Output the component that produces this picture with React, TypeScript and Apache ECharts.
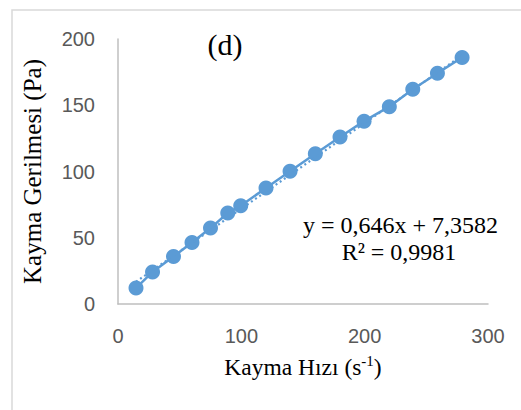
import React, { useEffect, useRef } from "react";
import * as echarts from "echarts";

const shearRate = [14.6, 28, 45, 60, 75, 89, 99.5, 120, 139.5, 160, 180, 199.5, 220, 239, 259, 279];
const shearStress = [12, 24.2, 35.8, 46.4, 57.3, 68.7, 74.2, 87.6, 100.2, 113.4, 126, 138, 148.9, 162.1, 174.2, 186.1];
const trendSlope = 0.646;
const trendIntercept = 7.3582;
const xTicks = [0, 100, 200, 300];
const yTicks = [0, 50, 100, 150, 200];
const panelLabel = "(d)";
const equationText = "y = 0,646x + 7,3582";
const r2Text = "R² = 0,9981";

const BLUE = "#5B9BD5";
const SERIF = "'Liberation Serif', 'Times New Roman', serif";
const SANS = "'Liberation Sans', Arial, sans-serif";

export default function App() {
  const ref = useRef<HTMLDivElement>(null);
  useEffect(() => {
    if (!ref.current) return;
    const chart = echarts.init(ref.current, undefined, { renderer: "svg" });
    const pts = shearRate.map((x, i) => [x, shearStress[i]]);
    const xMin = Math.min(...shearRate);
    const xMax = Math.max(...shearRate);
    const trend = [
      [xMin, trendSlope * xMin + trendIntercept],
      [xMax, trendSlope * xMax + trendIntercept],
    ];
    chart.setOption({
      animation: false,
      backgroundColor: "#ffffff",
      grid: { left: 118, right: 33, top: 39, bottom: 106 },
      xAxis: {
        type: "value",
        min: xTicks[0],
        max: xTicks[xTicks.length - 1],
        interval: 100,
        axisLine: { show: true, lineStyle: { color: "#BFBFBF", width: 1.5 } },
        axisTick: { show: false },
        splitLine: { show: false },
        axisLabel: { color: "#595959", fontSize: 20, fontFamily: SANS, margin: 22 },
        name: "{a|Kayma Hızı (s}{b|-1}{a|)}",
        nameLocation: "middle",
        nameGap: 49,
        nameTextStyle: {
          rich: {
            a: { fontFamily: SERIF, fontSize: 23.5, color: "#000", lineHeight: 27 },
            b: { fontFamily: SERIF, fontSize: 15, color: "#000", verticalAlign: "top", lineHeight: 27 },
          },
        },
      },
      yAxis: {
        type: "value",
        min: yTicks[0],
        max: yTicks[yTicks.length - 1],
        interval: 50,
        axisLine: { show: true, lineStyle: { color: "#BFBFBF", width: 1.5 } },
        axisTick: { show: false },
        splitLine: { show: false },
        axisLabel: { color: "#595959", fontSize: 20, fontFamily: SANS, margin: 23 },
        name: "Kayma Gerilmesi (Pa)",
        nameLocation: "middle",
        nameGap: 73,
        nameTextStyle: { fontFamily: SERIF, fontSize: 25, color: "#000" },
      },
      series: [
        {
          type: "line",
          data: pts,
          symbol: "circle",
          symbolSize: 15,
          lineStyle: { color: BLUE, width: 2.5 },
          itemStyle: { color: BLUE },
          z: 2,
        },
        {
          type: "line",
          data: trend,
          symbol: "none",
          lineStyle: { color: BLUE, width: 2.2, type: [2, 3] },
          z: 3,
        },
      ],
      graphic: [
        {
          type: "rect",
          shape: { x: 12, y: 10, width: 540, height: 440 },
          style: { fill: "none", stroke: "#D9D9D9", lineWidth: 1.5 },
          silent: true,
        },
        {
          type: "text",
          x: 225,
          y: 44,
          style: { text: panelLabel, font: `30px ${SERIF}`, fill: "#000", align: "center", verticalAlign: "middle" },
        },
        {
          type: "text",
          x: 498,
          y: 225,
          style: { text: equationText, font: `24px ${SERIF}`, fill: "#000", align: "right", verticalAlign: "middle" },
        },
        {
          type: "text",
          x: 399,
          y: 252,
          style: { text: r2Text, font: `24px ${SERIF}`, fill: "#000", align: "center", verticalAlign: "middle" },
        },
      ],
    });
    return () => chart.dispose();
  }, []);
  return <div ref={ref} style={{ width: 521, height: 410, position: "absolute", left: 0, top: 0 }} />;
}
